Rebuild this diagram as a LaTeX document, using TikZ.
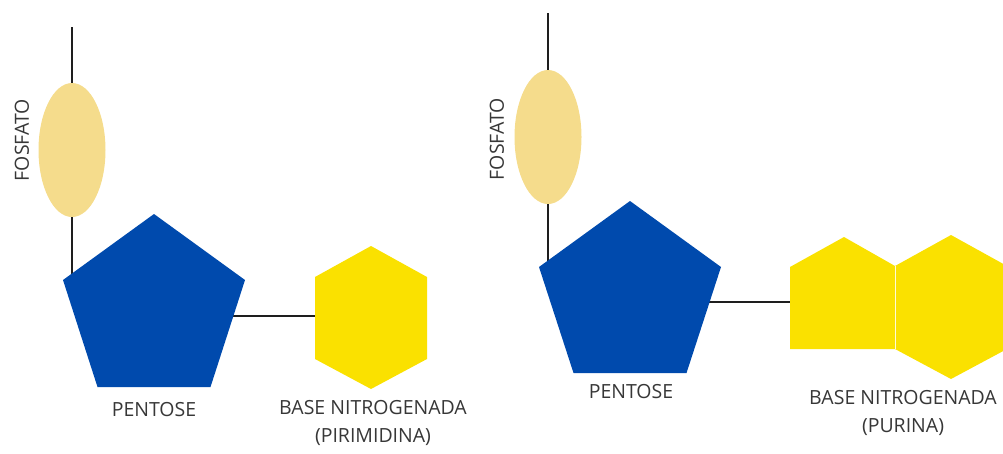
\documentclass[tikz,border=0pt]{standalone}
\usepackage{fontspec}
\setmainfont{Open Sans}
\usetikzlibrary{shapes.geometric}
\definecolor{pentblue}{RGB}{0,74,173}
\definecolor{baseyellow}{RGB}{250,225,0}
\definecolor{phoscol}{RGB}{245,220,140}
\definecolor{txtcol}{RGB}{55,55,55}
\definecolor{linecol}{RGB}{30,30,30}
\tikzset{
  bond/.style={draw=linecol, line width=2.5pt},
  phos/.style={ellipse, fill=phoscol, minimum width=67pt, minimum height=134pt, inner sep=0pt, outer sep=0pt},
  lbl/.style={text=txtcol, font=\fontsize{19.5}{28}\selectfont, align=center, inner sep=0pt},
}
\begin{document}
\begin{tikzpicture}[x=1pt,y=-1pt]
\useasboundingbox (0,0) rectangle (1003,453);
% ---------- left: pyrimidine nucleotide ----------
\coordinate (top1) at (72,27);
\coordinate (sug1in) at (72,285);
\coordinate (sug1r) at (225,316);
\coordinate (pyr) at (316,316);
\node[phos] (phos1) at (72,150) {};
\draw[bond] (top1) -- (phos1.north);
\draw[bond] (phos1.south) -- (sug1in);
\draw[bond] (sug1r) -- (pyr);
\fill[pentblue] (154,214) -- (245,280) -- (210.5,387) -- (97.5,387) -- (63,280) -- cycle;
\fill[baseyellow] (371,246) -- (427,277) -- (427,359) -- (371,389) -- (315,359) -- (315,277) -- cycle;
\node[lbl, rotate=90] (fos1) at (22,140) {FOSFATO};
\node[lbl] (pen1) at (154,410) {PENTOSE};
\node[lbl] (base1) at (373,423) {BASE NITROGENADA\\(PIRIMIDINA)};
% ---------- right: purine nucleotide ----------
\coordinate (top2) at (548,13);
\coordinate (sug2in) at (548,272);
\coordinate (sug2r) at (700,302);
\coordinate (pur) at (791,302);
\node[phos] (phos2) at (548,137) {};
\draw[bond] (top2) -- (phos2.north);
\draw[bond] (phos2.south) -- (sug2in);
\draw[bond] (sug2r) -- (pur);
\fill[pentblue] (630,201) -- (721,267) -- (686.5,373) -- (573.5,373) -- (539,267) -- cycle;
\fill[baseyellow] (790,267) -- (844,237) -- (895,266) -- (895,349) -- (790,349) -- cycle;
\fill[baseyellow] (895,266) -- (951,235) -- (1007,266) -- (1007,349) -- (951,379) -- (895,349) -- cycle;
\draw[white!85!baseyellow, line width=0.6pt] (895,266) -- (895,349);
\node[lbl, rotate=90] (fos2) at (497,139) {FOSFATO};
\node[lbl] (pen2) at (631,392) {PENTOSE};
\node[lbl] (base2) at (903,413) {BASE NITROGENADA\\(PURINA)};
\end{tikzpicture}
\end{document}
